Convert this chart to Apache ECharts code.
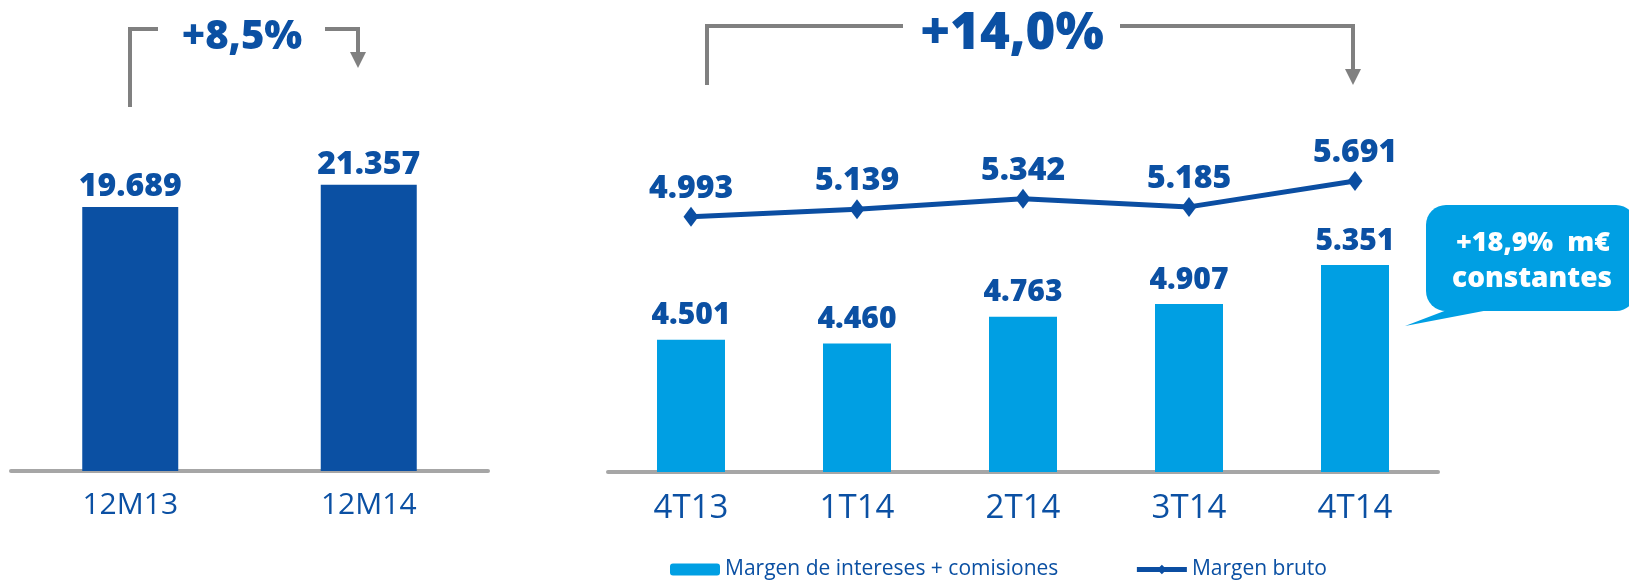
<!DOCTYPE html>
<html>
<head>
<meta charset="utf-8">
<title>Margen bruto</title>
<script src="https://cdn.jsdelivr.net/npm/echarts@6/dist/echarts.min.js"></script>
<style>
	html, body { margin: 0; padding: 0; background: #fff; }
	#chart { width: 1629px; height: 582px; }
</style>
</head>
<body>
<div id="chart"></div>
<script>
// datos del grafico (millones de euros)
var anualCategorias = ['12M13', '12M14'];
var anualValores = [19689, 21357];

var trimCategorias = ['4T13', '1T14', '2T14', '3T14', '4T14'];
var margenIntereses = [4501, 4460, 4763, 4907, 5351];
var margenBruto = [4993, 5139, 5342, 5185, 5691];

var serieNombres = ['Margen de intereses + comisiones', 'Margen bruto'];
var variacionAnual = '+8,5%';
var variacionTrim = '+14,0%';
var notaLineas = ['+18,9%  m€', 'constantes'];

var azulOscuro = '#0B50A3';
var azulClaro = '#009FE3';
var gris = '#808080';
var fuente = '"Open Sans", "Noto Sans", sans-serif';
var negrita = 800;

// formato con punto de miles
function miles(v) {
	return String(v).replace(/\B(?=(\d{3})+(?!\d))/g, '.');
}

var container = echarts.init(document.getElementById('chart'));

// corchete con flecha sobre un grafico
function corchete(x1, x2, yTop, yLeft, yArrow, gapL, gapR) {
	return [{
		type : 'polyline',
		shape : { points : [[x1, yLeft], [x1, yTop], [gapL, yTop]] },
		style : { stroke : gris, lineWidth : 4, fill : null }
	}, {
		type : 'polyline',
		shape : { points : [[gapR, yTop], [x2, yTop], [x2, yArrow - 14]] },
		style : { stroke : gris, lineWidth : 4, fill : null }
	}, {
		type : 'polygon',
		shape : { points : [[x2 - 8, yArrow - 16], [x2 + 8, yArrow - 16], [x2, yArrow]] },
		style : { fill : gris }
	}];
}

var graficos = []
	.concat(corchete(130, 358, 29, 107, 68, 158, 325))
	.concat(corchete(707, 1353, 26, 85, 85, 903, 1120));

graficos.push({
	type : 'text',
	x : 242, y : 38,
	style : { text : variacionAnual, font : negrita + ' 40px ' + fuente, fill : azulOscuro, align : 'center', verticalAlign : 'middle' }
});
graficos.push({
	type : 'text',
	x : 1012, y : 34,
	style : { text : variacionTrim, font : negrita + ' 51px ' + fuente, fill : azulOscuro, align : 'center', verticalAlign : 'middle' }
});

// bocadillo de la derecha
graficos.push({
	type : 'polygon',
	shape : { points : [[1405, 326], [1460, 305], [1515, 305]] },
	style : { fill : azulClaro }
});
graficos.push({
	type : 'rect',
	shape : { x : 1426, y : 205, width : 210, height : 106, r : 20 },
	style : { fill : azulClaro }
});
graficos.push({
	type : 'text',
	x : 1533, y : 243,
	style : { text : notaLineas[0], font : negrita + ' 27px ' + fuente, fill : '#fff', align : 'center', verticalAlign : 'middle' }
});
graficos.push({
	type : 'text',
	x : 1532, y : 279,
	style : { text : notaLineas[1], font : negrita + ' 28px ' + fuente, fill : '#fff', align : 'center', verticalAlign : 'middle' }
});

var ejeX = function(index, data, size, margin) {
	return {
		type : 'category',
		gridIndex : index,
		data : data,
		axisLine : { lineStyle : { color : '#A6A6A6', width : 4 } },
		axisTick : { show : false },
		axisLabel : {
			color : azulOscuro,
			fontFamily : fuente,
			fontSize : size,
			margin : margin
		}
	};
};

var etiqueta = function(size, dist) {
	return {
		show : true,
		position : 'top',
		distance : dist,
		color : azulOscuro,
		fontSize : size,
		fontWeight : negrita,
		formatter : function(p) { return miles(p.value); }
	};
};

container.setOption({
	animation : false,
	textStyle : { fontFamily : fuente },
	legend : {
		data : serieNombres,
		left : 665,
		top : 554,
		itemWidth : 50,
		itemHeight : 12,
		itemGap : 76,
		lineStyle : { width : 5 },
		textStyle : { color : azulOscuro, fontSize : 21, fontFamily : fuente }
	},
	grid : [
		{ left : 11, width : 477, top : 100, height : 371 },
		{ left : 608, width : 830, top : 101, height : 371 }
	],
	xAxis : [
		ejeX(0, anualCategorias, 30, 19),
		ejeX(1, trimCategorias, 33, 20)
	],
	yAxis : [
		{ type : 'value', gridIndex : 0, min : 0, max : 27669, show : false },
		{ type : 'value', gridIndex : 1, min : 3000, max : 7213, show : false },
		{ type : 'value', gridIndex : 1, min : 0, max : 7256, show : false }
	],
	series : [{
		type : 'bar',
		xAxisIndex : 0,
		yAxisIndex : 0,
		data : anualValores,
		barWidth : 96,
		itemStyle : { color : azulOscuro },
		label : etiqueta(32, 4)
	}, {
		name : serieNombres[0],
		type : 'bar',
		xAxisIndex : 1,
		yAxisIndex : 1,
		data : margenIntereses,
		barWidth : 68,
		itemStyle : { color : azulClaro },
		label : etiqueta(30, 9)
	}, {
		name : serieNombres[1],
		type : 'line',
		xAxisIndex : 1,
		yAxisIndex : 2,
		data : margenBruto,
		symbol : 'diamond',
		symbolSize : [15, 20],
		lineStyle : { color : '#0B4EA2', width : 5 },
		itemStyle : { color : '#0B4EA2' },
		label : etiqueta(32, 2)
	}],
	graphic : graficos
});
</script>
</body>
</html>
